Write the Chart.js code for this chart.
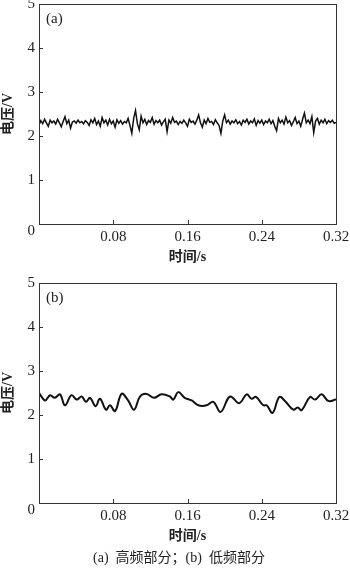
<!DOCTYPE html>
<html>
<head>
<meta charset="utf-8">
<script src="https://cdn.jsdelivr.net/npm/chart.js@4"></script>
<style>
    body { margin: 0; background: #fff; width: 350px; height: 569px; position: relative; overflow: hidden; }
    canvas { position: absolute; left: 0; }
    #chart-a { top: 0; }
    #chart-b { top: 270px; }
    .caption {
        position: absolute; left: 0; width: 350px; top: 546px;
        text-align: center; font: 14px "Liberation Serif", "Noto Sans CJK SC", serif; color: #222;
        padding-left: 4px;
    }
</style>
</head>
<body>
<canvas id="chart-a" width="350" height="270"></canvas>
<canvas id="chart-b" width="350" height="279"></canvas>
<div class="caption">(a)&nbsp; 高频部分；(b)&nbsp; 低频部分</div>
<script>
// sampling step of the high-frequency trace (s)
const stepA = 0.002

// (a) high-frequency part, one value per sample
const voltsA = [
    2.25, 2.35, 2.28, 2.38, 2.30, 2.22, 2.36, 2.30, 2.34, 2.27,
    2.38, 2.30, 2.21, 2.33, 2.44, 2.28, 2.36, 2.18, 2.32, 2.34,
    2.29, 2.36, 2.30, 2.33, 2.28, 2.35, 2.31, 2.24, 2.37, 2.30,
    2.40, 2.26, 2.34, 2.22, 2.42, 2.30, 2.36, 2.25, 2.38, 2.28,
    2.34, 2.20, 2.37, 2.29, 2.35, 2.27, 2.33, 2.30, 2.40, 2.24,
    2.06, 2.40, 2.58, 2.28, 2.14, 2.45, 2.30, 2.38, 2.26, 2.35,
    2.31, 2.42, 2.27, 2.35, 2.30, 2.36, 2.25, 2.32, 2.38, 2.10,
    2.36, 2.29, 2.42, 2.31, 2.34, 2.26, 2.33, 2.29, 2.36, 2.30,
    2.22, 2.38, 2.31, 2.34, 2.27, 2.36, 2.48, 2.30, 2.20, 2.36,
    2.28, 2.40, 2.31, 2.33, 2.26, 2.37, 2.30, 2.24, 2.06, 2.34,
    2.48, 2.30, 2.36, 2.27, 2.34, 2.30, 2.37, 2.28, 2.33, 2.25,
    2.36, 2.31, 2.38, 2.27, 2.34, 2.30, 2.39, 2.24, 2.35, 2.29,
    2.36, 2.26, 2.34, 2.30, 2.38, 2.28, 2.35, 2.22, 2.12, 2.40,
    2.30, 2.36, 2.27, 2.43, 2.30, 2.35, 2.24, 2.32, 2.42, 2.28,
    2.34, 2.22, 2.38, 2.52, 2.30, 2.36, 2.28, 2.44, 2.08, 2.34,
    2.40, 2.27, 2.36, 2.30, 2.38, 2.28, 2.35, 2.31, 2.36, 2.29,
    2.31
]

// (b) low-frequency part
const timesB = [
    0, 0.0065, 0.012, 0.017, 0.0226, 0.028, 0.035, 0.0406, 0.046, 0.0506,
    0.055, 0.061, 0.0657, 0.0722, 0.0765, 0.082, 0.089, 0.096, 0.1024, 0.1088,
    0.116, 0.124, 0.132, 0.141, 0.1447, 0.150, 0.157, 0.1645, 0.1717, 0.1806,
    0.1878, 0.1957, 0.2058, 0.2158, 0.2237, 0.229, 0.2338, 0.2417, 0.2453, 0.2517,
    0.2589, 0.265, 0.274, 0.2787, 0.283, 0.292, 0.2974, 0.3045, 0.3117, 0.32
]
const voltsB = [
    2.50, 2.33, 2.45, 2.39, 2.47, 2.22, 2.45, 2.35, 2.42, 2.30,
    2.39, 2.20, 2.37, 2.12, 2.22, 2.09, 2.48, 2.33, 2.12, 2.42,
    2.48, 2.39, 2.47, 2.42, 2.35, 2.52, 2.39, 2.33, 2.22, 2.22,
    2.30, 2.07, 2.42, 2.27, 2.47, 2.37, 2.41, 2.22, 2.22, 2.05,
    2.41, 2.32, 2.12, 2.17, 2.11, 2.41, 2.35, 2.47, 2.32, 2.35
]

const xTicks = [0, 0.08, 0.16, 0.24, 0.32]
const yTicks = [0, 1, 2, 3, 4, 5]

const tickFont = { family: '"Liberation Serif", serif', size: 15 }
const titleFont = { family: '"Liberation Serif", "Noto Sans CJK SC", serif', size: 14, weight: 'bold' }
const ink = '#222'

// frame, inward ticks, corner "0" and panel tag
const framePlugin = (tag) => ({
    id: 'frame',
    afterDraw: (chart) => {
        const { ctx, chartArea: a, scales: { x, y } } = chart
        ctx.save()
        ctx.strokeStyle = '#333'
        ctx.lineWidth = 1
        ctx.strokeRect(a.left + 0.5, a.top + 0.5, a.right - a.left, a.bottom - a.top)

        ctx.beginPath()
        yTicks.forEach(v => {
            const py = Math.round(y.getPixelForValue(v)) + 0.5
            ctx.moveTo(a.left, py)
            ctx.lineTo(a.left + 4, py)
        })
        xTicks.forEach(v => {
            const px = Math.round(x.getPixelForValue(v)) + 0.5
            ctx.moveTo(px, a.bottom)
            ctx.lineTo(px, a.bottom - 4)
        })
        ctx.stroke()

        ctx.fillStyle = ink
        ctx.font = '15px "Liberation Serif", serif'
        ctx.textAlign = 'right'
        ctx.textBaseline = 'middle'
        ctx.fillText('0', a.left - 4, a.bottom + 7)

        ctx.textAlign = 'left'
        ctx.fillText(tag, a.left + 7, a.top + 15)
        ctx.restore()
    }
})

const makeChart = (id, points, tag, lineWidth, tension, padTop) => {
    new Chart(document.getElementById(id), {
        type: 'line',
        data: {
            datasets: [{
                data: points,
                borderColor: '#111',
                borderWidth: lineWidth,
                pointRadius: 0,
                tension: tension,
                fill: false
            }]
        },
        options: {
            responsive: false,
            animation: false,
            layout: { padding: { top: padTop, right: 14, left: 0, bottom: 4 } },
            plugins: { legend: { display: false }, tooltip: { enabled: false } },
            scales: {
                x: {
                    type: 'linear',
                    min: 0,
                    max: 0.32,
                    afterBuildTicks: (s) => { s.ticks = xTicks.map(v => ({ value: v })) },
                    afterFit: (s) => { s.height = 42; s.paddingLeft = 0; s.paddingRight = 0 },
                    grid: { drawOnChartArea: false, drawTicks: false },
                    border: { color: '#333' },
                    ticks: {
                        font: tickFont, color: ink, padding: 4, maxRotation: 0, autoSkip: false,
                        callback: (v) => v === 0 ? '' : v.toFixed(2)
                    },
                    title: { display: true, text: '时间/s', font: titleFont, color: ink, padding: 0 }
                },
                y: {
                    min: 0,
                    max: 5,
                    afterBuildTicks: (s) => { s.ticks = yTicks.map(v => ({ value: v })) },
                    afterFit: (s) => { s.width = 39; s.paddingTop = 0; s.paddingBottom = 0 },
                    grid: { drawOnChartArea: false, drawTicks: false },
                    border: { color: '#333' },
                    ticks: {
                        font: tickFont, color: ink, padding: 4,
                        callback: (v) => v === 0 ? '' : v
                    },
                    title: { display: true, text: '电压/V', font: titleFont, color: ink, padding: 0 }
                }
            }
        },
        plugins: [framePlugin(tag)]
    })
}

const pointsA = voltsA.map((v, i) => ({ x: i * stepA, y: v }))
const pointsB = voltsB.map((v, i) => ({ x: timesB[i], y: v }))

makeChart('chart-a', pointsA, '(a)', 1.5, 0, 4)
makeChart('chart-b', pointsB, '(b)', 2, 0.4, 13)
</script>
</body>
</html>
